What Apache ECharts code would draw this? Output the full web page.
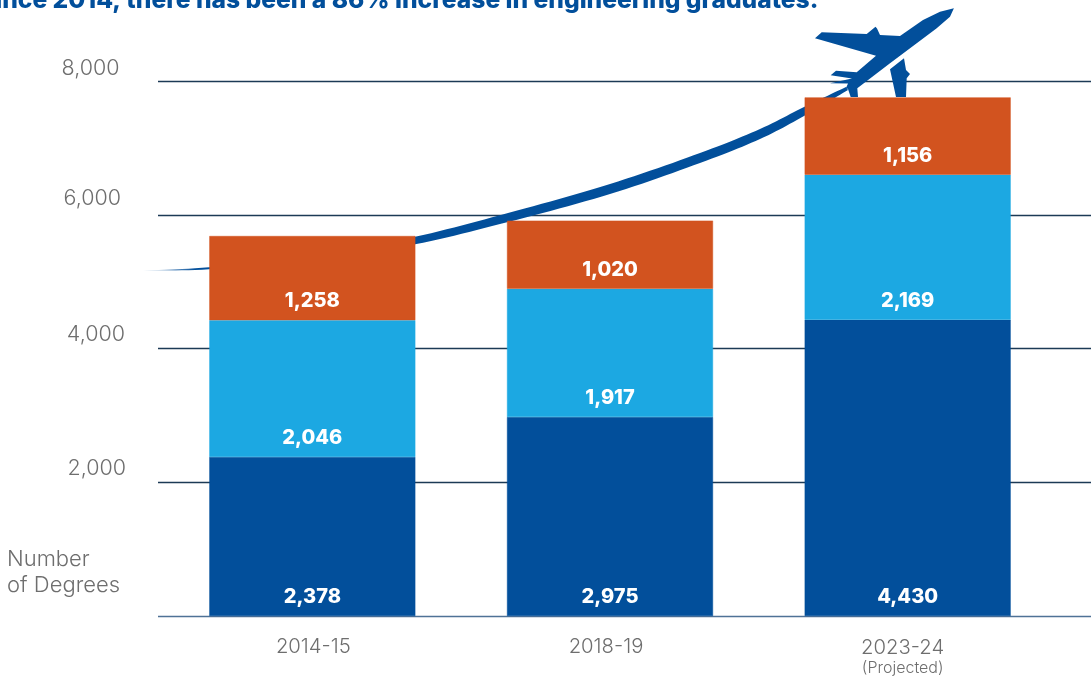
<!DOCTYPE html>
<html><head><meta charset="utf-8">
<style>html,body{margin:0;padding:0;background:#fff}#c{width:1091px;height:677px}</style>
<script src="https://cdn.jsdelivr.net/npm/echarts@6/dist/echarts.min.js"></script>
</head><body><div id="c"></div>
<script>
const categories = ['2014-15', '2018-19', '2023-24'];
const navyValues = [2378, 2975, 4430];
const blueValues = [2046, 1917, 2169];
const orangeValues = [1258, 1020, 1156];
const yTicks = [0, 2000, 4000, 6000, 8000];
const titleText = 'Since 2014, there has been a 86% increase in engineering graduates.';
const subNote = '(Projected)';

const NAVY = '#024F9B', BLUE = '#1CA8E2', ORANGE = '#D2531F', GREY = '#6e6e6e';
const FONT = 'Inter, "Open Sans", sans-serif';

// decorative flight path: upper and lower edges (left to right)
const upper = [[143,270.5],[209,267.3],[310,256.5],[415,236.8],[508,213],[610,184],[700,153],[760,129],[804,107],[846,87]];
const lower = [[143,270.7],[209,269.3],[310,261],[415,244.3],[508,222],[610,194],[700,163],[760,139],[804,116],[848,90]];
function spline(p){
  const out=[];
  for(let i=0;i<p.length-1;i++){
    const a=p[Math.max(i-1,0)],b=p[i],c=p[i+1],d=p[Math.min(i+2,p.length-1)];
    for(let k=0;k<12;k++){
      const t=k/12,t2=t*t,t3=t2*t;
      out.push([0,1].map(j=>0.5*(2*b[j]+(c[j]-a[j])*t+(2*a[j]-5*b[j]+4*c[j]-d[j])*t2+(3*b[j]-a[j]-3*c[j]+d[j])*t3)));
    }
  }
  out.push(p[p.length-1]);
  return out;
}
const flightPath = spline(upper).concat(spline(lower).reverse());
const plane = [[953.9,8.3],[940,11.7],[923,20],[900,36],[880,35],[877,28.5],[875.5,26.7],[866.7,34],[821.7,32.3],[815,38.3],[876,55.7],[856.7,72.3],[836,70.7],[830.7,75.3],[852,78.5],[830,83.3],[848,83.5],[846,88],[848,89],[850.7,97],[858,97],[857.3,88.3],[890,63.3],[916.7,43.3],[936.7,28.3],[950,16.7]];
const lowerWing = [[904,58.3],[890,69.3],[896,97],[906,97],[906.7,78.3],[910,74],[906,70]];

const yLabelShift = {2000:[28,0],4000:[28,1],6000:[32,5],8000:[24,6.5]};
const yRich = {};
yTicks.forEach(v=>{ if(v){ yRich['v'+v]={fontFamily:FONT,fontSize:21.5,fontWeight:300,color:GREY,padding:[0,yLabelShift[v][1],yLabelShift[v][0],0]}; }});

const labelCfg = {show:true,position:'insideBottom',distance:9,color:'#fff',fontFamily:FONT,fontSize:20,fontWeight:800,formatter:p=>p.value.toLocaleString('en-US')};
const mk = (name,data,color)=>({name,type:'bar',stack:'t',data,barWidth:206,itemStyle:{color,borderColor:color,borderWidth:0.5},label:labelCfg,z:3,xAxisIndex:0,yAxisIndex:0});

const chart = echarts.init(document.getElementById('c'),null,{renderer:'canvas'});
chart.setOption({
  animation:false,
  backgroundColor:'#fff',
  grid:[
    {left:163.5,width:893,top:81,bottom:61},
    {left:158,right:0,top:81,bottom:61}
  ],
  xAxis:[
    {type:'category',gridIndex:0,data:categories,axisLine:{show:false},axisTick:{show:false},
     axisLabel:{margin:21,interval:0,formatter:(v,i)=>i===0?`{a|${v}}`:(i===1?`{b|${v}}`:`{c|${v}}\n{d|${subNote}}`),
       rich:{
        a:{fontFamily:FONT,fontSize:20.3,fontWeight:300,color:GREY,padding:[0,0,0,2]},
        b:{fontFamily:FONT,fontSize:20.3,fontWeight:300,color:GREY,padding:[0,8,0,0]},
        c:{fontFamily:FONT,fontSize:20.3,fontWeight:300,color:GREY,padding:[0,10,0,0],lineHeight:22},
        d:{fontFamily:FONT,fontSize:16,fontWeight:300,color:GREY,padding:[0,10,0,0],lineHeight:18}
       }}},
    {type:'category',gridIndex:1,data:categories,show:false}
  ],
  yAxis:[
    {type:'value',gridIndex:0,min:0,max:8000,interval:2000,show:false,splitLine:{show:false}},
    {type:'value',gridIndex:1,min:0,max:8000,interval:2000,axisLine:{show:false},axisTick:{show:false},
     splitLine:{show:true,lineStyle:{color:['#4f7296','#1c3a56','#1c3a56','#1c3a56','#1c3a56'],width:1.4}},
     axisLabel:{margin:32,align:'right',formatter:v=>v?`{v${v}|${v.toLocaleString('en-US')}}`:'',rich:yRich}}
  ],
  series:[mk('navy',navyValues,NAVY),mk('blue',blueValues,BLUE),mk('orange',orangeValues,ORANGE)],
  graphic:[
    {type:'polygon',z:1,silent:true,shape:{points:flightPath},style:{fill:{type:'linear',x:143,y:0,x2:195,y2:0,global:true,colorStops:[{offset:0,color:'rgba(2,79,155,0)'},{offset:1,color:NAVY}]}}},
    {type:'polygon',z:1,silent:true,shape:{points:plane},style:{fill:NAVY}},
    {type:'polygon',z:1,silent:true,shape:{points:lowerWing},style:{fill:NAVY}},
    {type:'text',z:5,left:-21,top:-11.5,style:{text:titleText,fill:NAVY,font:'800 24.6px '+FONT}},
    {type:'text',z:5,left:7,top:546,style:{text:'Number\nof Degrees',fill:GREY,font:'300 22px '+FONT,lineHeight:26}}
  ]
});
</script></body></html>
